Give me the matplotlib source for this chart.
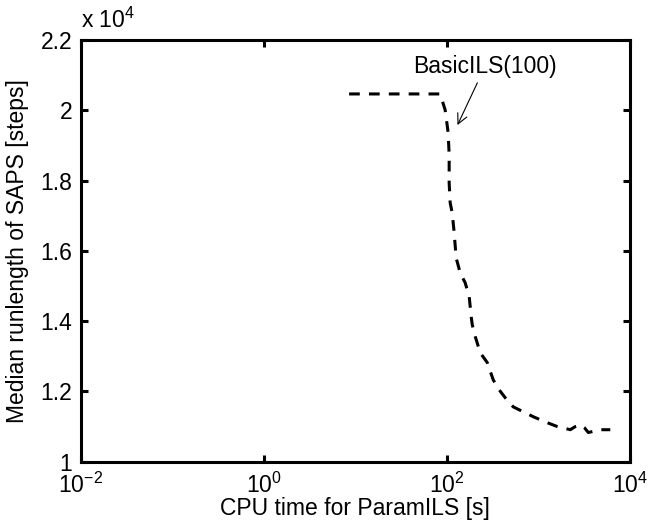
import numpy as np
import matplotlib
matplotlib.use("Agg")
import matplotlib.pyplot as plt
from matplotlib.ticker import FixedLocator, FuncFormatter, NullLocator

# values (CPU time [s], median runlength [steps])
cpu_time = [8.55, 84.5, 95.7, 103.3, 105.9, 105.9, 108.6, 114.3, 120.2, 126.2,
            139.6, 158.5, 175.4, 184.5, 189.2, 204.2, 231.2, 276.1, 320.6,
            363.9, 433.5, 530.9, 682.3, 877.0, 1247, 1607, 2228, 2529, 2864,
            3170, 3508, 4742, 6095]
runlength = [20465, 20465, 20010, 19360, 18730, 17930, 17370, 17080, 16510,
             15800, 15380, 15090, 14690, 14120, 13900, 13560, 13100, 12820,
             12330, 12080, 11820, 11560, 11420, 11280, 11110, 11000, 10910,
             11000, 11050, 10970, 10830, 10910, 10910]

x_ticks = [1e-2, 1e0, 1e2, 1e4]
y_ticks = [10000, 12000, 14000, 16000, 18000, 20000, 22000]

plt.rcParams['font.family'] = ['Liberation Sans', 'DejaVu Sans']
plt.rcParams['mathtext.fontset'] = 'custom'
plt.rcParams['mathtext.rm'] = 'Liberation Sans'
plt.rcParams['mathtext.it'] = 'Liberation Sans:italic'
plt.rcParams['mathtext.bf'] = 'Liberation Sans:bold'
fs = 16.5

fig = plt.figure(figsize=(6.48, 5.25), dpi=100)
ax = fig.add_axes([0.1245, 0.1206, 0.8477, 0.8032])

ax.plot(cpu_time, runlength, color='k', lw=2.2, linestyle=(0, (3.5, 3.0)))

ax.set_xscale('log')
ax.set_xlim(1e-2, 1e4)
ax.set_ylim(10000, 22000)
ax.xaxis.set_major_locator(FixedLocator(x_ticks))
ax.xaxis.set_minor_locator(NullLocator())
ax.yaxis.set_major_locator(FixedLocator(y_ticks))
ax.yaxis.set_major_formatter(FuncFormatter(lambda v, p: '%g' % (v / 1e4)))

for s in ax.spines.values():
    s.set_linewidth(2.2)
ax.tick_params(direction='in', length=5, width=2.2, top=True, right=True,
               labelsize=fs)
ax.tick_params(axis='y', pad=6)
ax.tick_params(axis='x', pad=8)

ax.set_xlabel('CPU time for ParamILS [s]', fontsize=fs, labelpad=-1)
ax.set_ylabel('Median runlength of SAPS [steps]', fontsize=fs, labelpad=8)
fig.text(0.1245, 0.937, r'x 10$^4$', fontsize=fs, ha='left', va='bottom')

ax.annotate('BasicILS(100)', xy=(130.6, 19580), xytext=(262.6, 21260),
            ha='center', va='center', fontsize=fs,
            arrowprops=dict(arrowstyle='->', color='k', lw=0.8,
                            shrinkA=2, shrinkB=0, mutation_scale=18))

fig.savefig('out.png', dpi=100)
